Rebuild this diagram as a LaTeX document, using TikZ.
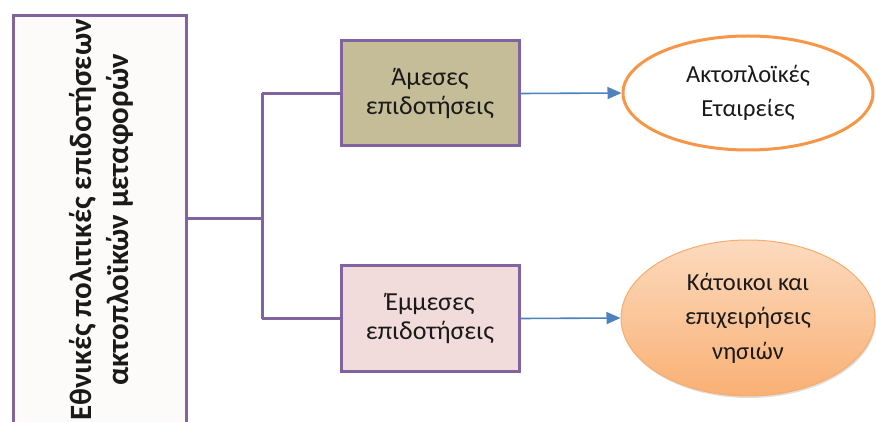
\documentclass[tikz,border=0pt]{standalone}
\usepackage{fontspec}
\setmainfont{Carlito}
\usetikzlibrary{shapes.geometric,arrows.meta,shadows}
\definecolor{frame}{HTML}{8064A2}
\definecolor{tanfill}{HTML}{C4BD97}
\definecolor{pinkfill}{HTML}{F2DCDB}
\definecolor{linkblue}{HTML}{4F81BD}
\definecolor{orangeline}{HTML}{F79646}
\definecolor{paleback}{HTML}{FDFBF9}
\definecolor{inktext}{HTML}{1A1A1A}
\begin{document}
\begin{tikzpicture}[x=1pt,y=-1pt,
  treeline/.style={draw=frame,line width=3pt},
  kindbox/.style={draw=frame,line width=3pt,minimum width=178pt,minimum height=105pt,
    align=center,font=\fontsize{26}{29}\selectfont,text=inktext},
  target/.style={ellipse,align=center,font=\fontsize{24.5}{34.5}\selectfont,text=inktext,inner sep=0pt},
  flow/.style={draw=linkblue,line width=1.6pt,-{Triangle[length=14pt,width=12pt]}}]
\useasboundingbox (0,0) rectangle (876,422);
\clip (0,0) rectangle (876,422);
% root box, running past the lower edge
\node[draw=frame,line width=3pt,fill=paleback,minimum width=173pt,minimum height=440pt,
  anchor=north west] (root) at (12,14) {};
\node[rotate=90,align=center,font=\bfseries\fontsize{31}{37}\selectfont,text=inktext]
  (roottext) at (101,220) {Εθνικές πολιτικές επιδοτήσεων\\ακτοπλοϊκών μεταφορών};
% the two kinds of subsidy
\node[kindbox,fill=tanfill] (direct) at (430,93.5) {Άμεσες\\επιδοτήσεις};
\node[kindbox,fill=pinkfill] (indirect) at (430,318.5) {Έμμεσες\\επιδοτήσεις};
% branching connector
\coordinate (split) at (262,219);
\draw[treeline] (root.east |- split) -- (split);
\draw[treeline] (split |- direct) -- (split |- indirect);
\draw[treeline] (split |- direct) -- (direct.west);
\draw[treeline] (split |- indirect) -- (indirect.west);
% recipients
\node[target,draw=orangeline,line width=3pt,fill=white,minimum width=250pt,minimum height=114pt]
  (firms) at (748,93) {Ακτοπλοϊκές\\Εταιρείες};
\node[target,draw=orangeline!80!white,line width=1pt,
  top color=orangeline!35!white,bottom color=orangeline!75!white,
  drop shadow={shadow xshift=1pt,shadow yshift=-2pt,opacity=0.25},
  minimum width=254pt,minimum height=156pt]
  (islands) at (748,318) {Κάτοικοι και\\επιχειρήσεις\\νησιών};
\draw[flow] (direct.east) -- (firms.west);
\draw[flow] (indirect.east) -- (islands.west);
\end{tikzpicture}
\end{document}
